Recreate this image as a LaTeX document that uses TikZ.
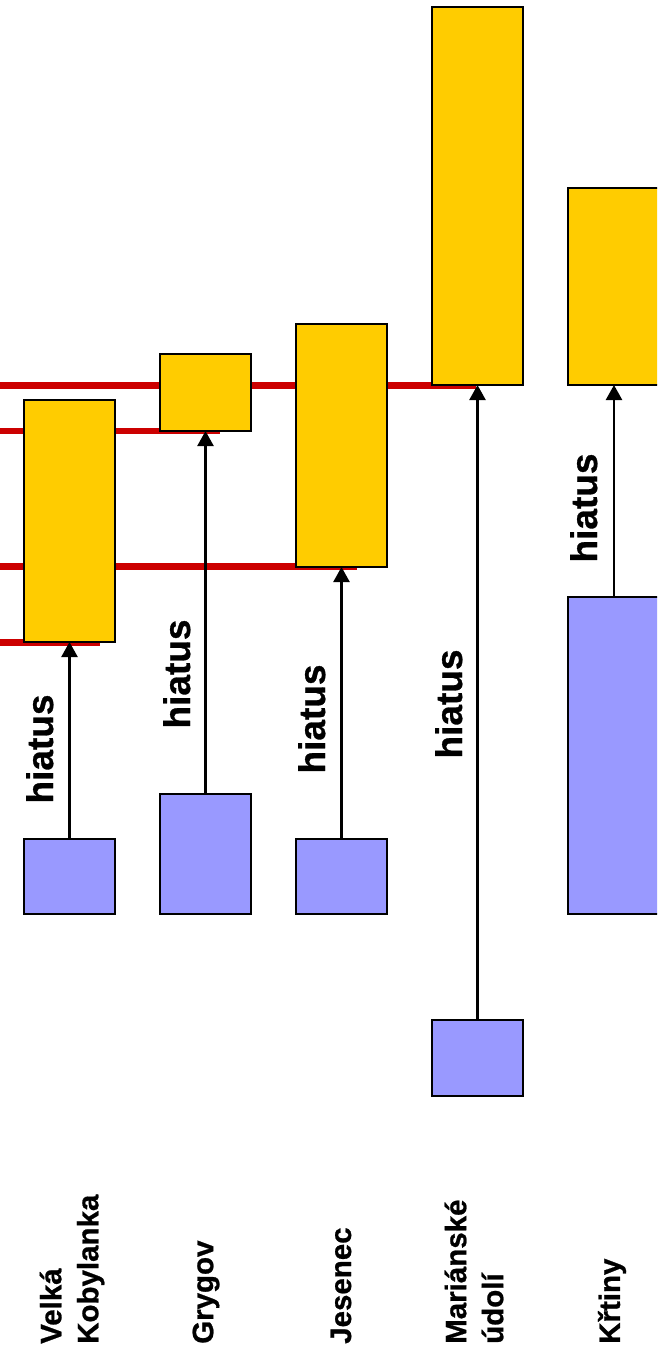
\documentclass[tikz,border=0pt]{standalone}
\usepackage{fontspec}
\setmainfont{Liberation Sans}
\newfontfamily\lbold[FakeBold=0.8]{Liberation Sans Bold}
\usetikzlibrary{arrows.meta}
\definecolor{boxyellow}{HTML}{FFCC00}
\definecolor{boxblue}{HTML}{9999FF}
\definecolor{linered}{HTML}{CC0000}
\begin{document}
\begin{tikzpicture}[x=1pt,y=-1pt,
  ybox/.style={draw=black, line width=2.2pt, fill=boxyellow, inner sep=0pt, outer sep=0pt, anchor=north west, minimum width=91pt},
  bbox/.style={draw=black, line width=2.2pt, fill=boxblue, inner sep=0pt, outer sep=0pt, anchor=north west, minimum width=91pt},
  arr/.style={draw=black, line width=2.4pt, -{Triangle[width=16pt,length=15pt]}},
  redline/.style={draw=linered, line width=6.5pt},
  hiat/.style={rotate=90, anchor=base, inner sep=0pt, font=\lbold\fontsize{37}{44}\selectfont},
  site/.style={rotate=90, anchor=west, align=left, inner sep=0pt, font=\lbold\fontsize{29.5}{37}\selectfont}]
\useasboundingbox (0,0) rectangle (657,1350);
\clip (0,0) rectangle (657,1350);
\fill[white] (0,0) rectangle (657,1350);

% red lines (behind boxes)
\coordinate (r1a) at (0,385.5);   \coordinate (r1b) at (476,385.5);
\coordinate (r2a) at (0,431);     \coordinate (r2b) at (220,431);
\coordinate (r3a) at (0,566.5);   \coordinate (r3b) at (357,566.5);
\coordinate (r4a) at (0,642.5);   \coordinate (r4b) at (100,642.5);
\draw[redline] (r1a) -- (r1b);
\draw[redline] (r2a) -- (r2b);
\draw[redline] (r3a) -- (r3b);
\draw[redline] (r4a) -- (r4b);

% Velka Kobylanka
\node[ybox, minimum height=242pt] (vky) at (24,400) {};
\node[bbox, minimum height=75pt] (vkb) at (24,839) {};
% Grygov
\node[ybox, minimum height=77pt] (gry) at (160,354) {};
\node[bbox, minimum height=120pt] (grb) at (160,794) {};
% Jesenec
\node[ybox, minimum height=243pt] (jey) at (296,324) {};
\node[bbox, minimum height=75pt] (jeb) at (296,839) {};
% Marianske udoli
\node[ybox, minimum height=378pt] (muy) at (432,7) {};
\node[bbox, minimum height=76pt] (mub) at (432,1020) {};
% Krtiny
\node[ybox, minimum height=197pt, minimum width=95pt] (kry) at (568,188) {};
\node[bbox, minimum height=317pt, minimum width=95pt] (krb) at (568,597) {};

% arrows
\draw[arr] (vkb.north) -- (vky.south);
\draw[arr] (grb.north) -- (gry.south);
\draw[arr] (jeb.north) -- (jey.south);
\draw[arr] (mub.north) -- (muy.south);
\draw[arr] (krb.north -| 614,0) -- (kry.south -| 614,0);

% hiatus labels
\node[hiat] (h1) at (53,749) {hiatus};
\node[hiat] (h2) at (190,674) {hiatus};
\node[hiat] (h3) at (325,719) {hiatus};
\node[hiat] (h4) at (462,704) {hiatus};
\node[hiat] (h5) at (597,508) {hiatus};

% site labels
\node[site] (l1) at (72,1344) {Velká\\Kobylanka};
\node[site] (l2) at (206,1344) {Grygov};
\node[site] (l3) at (341,1344) {Jesenec};
\node[site] (l4) at (474,1344) {Mariánské\\údolí};
\node[site] (l5) at (612,1344) {Křtiny};
\end{tikzpicture}
\end{document}
